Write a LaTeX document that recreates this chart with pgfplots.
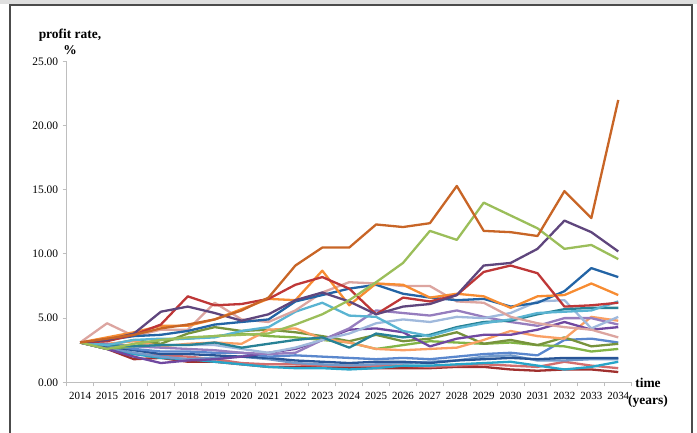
\documentclass[border=0pt]{standalone}
\usepackage{pgfplots}
\pgfplotsset{compat=1.18}
\usepackage{pgfplotstable}
\usepackage{fontspec}
\setmainfont{Liberation Serif}

\definecolor{cA}{RGB}{200,101,38}
\definecolor{cB}{RGB}{155,190,90}
\definecolor{cC}{RGB}{95,70,125}
\definecolor{cD}{RGB}{190,55,55}
\definecolor{cE}{RGB}{247,140,50}
\definecolor{cF}{RGB}{35,100,165}
\definecolor{cG}{RGB}{220,165,160}
\definecolor{cH}{RGB}{90,180,210}
\definecolor{cI}{RGB}{40,130,150}
\definecolor{cJ}{RGB}{160,185,220}
\definecolor{cK}{RGB}{150,125,190}
\definecolor{cL}{RGB}{112,72,160}
\definecolor{cM}{RGB}{250,160,100}
\definecolor{cN}{RGB}{119,147,60}
\definecolor{cO}{RGB}{130,180,70}
\definecolor{cP}{RGB}{90,135,205}
\definecolor{cQ}{RGB}{40,85,150}
\definecolor{cR}{RGB}{114,154,202}
\definecolor{cS}{RGB}{40,165,200}
\definecolor{cT}{RGB}{210,110,110}
\definecolor{cU}{RGB}{160,48,46}
\definecolor{axgray}{RGB}{190,190,190}

\pgfplotstableread{
x  A    B    C    D    E    F    G    H    I    J    K    L    M    N    O    P    Q    R    S    T    U
0  3.1  3.1  3.1  3.1  3.1  3.1  3.1  3.1  3.1  3.1  3.1  3.1  3.1  3.1  3.1  3.1  3.1  3.1  3.1  3.1  3.1
1  3.4  2.6  3.3  3.2  3.5  3.3  4.6  2.9  2.9  2.9  3.0  2.6  3.0  2.9  2.6  2.9  2.8  2.7  2.6  2.6  2.6
2  3.7  3.0  3.8  3.7  3.9  3.6  3.6  3.3  2.8  2.8  2.8  2.0  3.2  3.3  2.8  2.6  2.5  2.3  2.2  2.2  1.8
3  4.2  3.3  5.5  4.5  4.4  3.7  4.1  3.4  2.9  2.9  2.7  1.5  2.8  3.0  3.3  2.4  2.2  2.0  1.9  2.1  1.9
4  4.5  3.5  5.9  6.7  4.4  4.0  4.1  3.4  2.9  2.9  2.6  1.7  3.0  3.8  3.4  2.4  2.2  1.8  1.8  2.0  1.6
5  4.9  3.6  5.4  6.0  4.9  4.5  6.2  3.5  3.1  2.9  2.5  1.8  3.1  4.3  3.6  2.3  2.1  1.9  1.6  1.8  1.6
6  5.6  3.7  4.8  6.1  5.7  4.7  4.9  4.0  2.7  2.6  2.3  2.0  3.0  4.0  3.8  2.3  2.0  2.0  1.4  1.5  1.4
7  6.6  3.8  5.3  6.5  6.5  4.9  4.7  4.3  3.0  2.3  2.2  2.3  4.1  4.1  3.6  2.0  1.9  1.8  1.2  1.4  1.2
8  9.1  4.5  6.4  7.6  6.4  6.3  5.6  5.5  3.3  2.7  2.3  2.6  4.2  3.9  3.5  2.1  1.7  1.5  1.1  1.4  1.2
9  10.5 5.3  7.0  8.2  8.7  6.8  7.0  6.2  3.5  3.3  3.3  3.3  3.4  3.6  3.3  2.0  1.6  1.4  1.1  1.3  1.2
10 10.5 6.4  6.3  7.3  6.0  7.3  7.8  5.2  2.7  3.8  4.2  4.1  3.1  3.2  3.1  1.9  1.5  1.3  1.0  1.3  1.1
11 12.3 7.8  5.3  5.3  7.7  7.6  7.7  5.1  3.8  4.6  5.6  4.2  2.6  3.7  2.6  1.8  1.6  1.4  1.1  1.3  1.1
12 12.1 9.3  5.9  6.6  7.6  6.9  7.5  4.0  3.5  4.9  5.4  3.9  2.5  3.2  2.9  1.9  1.6  1.5  1.3  1.3  1.1
13 12.4 11.8 6.1  6.3  6.6  6.6  7.5  3.6  3.7  4.7  5.2  2.8  2.6  3.4  3.2  1.8  1.5  1.6  1.3  1.2  1.1
14 15.3 11.1 6.8  6.8  6.9  6.4  6.3  4.2  4.3  5.1  5.6  3.4  2.7  3.9  3.1  2.0  1.7  1.7  1.4  1.3  1.2
15 11.8 14.0 9.1  8.6  6.7  6.5  6.2  4.6  4.7  5.0  5.1  3.7  3.3  3.0  3.0  2.2  1.8  2.0  1.5  1.4  1.2
16 11.7 13.0 9.3  9.1  5.8  5.9  5.1  4.9  4.8  5.4  4.7  3.7  4.0  3.3  3.1  2.3  1.9  2.1  1.6  1.3  1.0
17 11.4 12.0 10.4 8.5  6.7  6.2  4.6  5.4  5.3  6.3  4.4  4.1  3.6  2.9  2.9  2.1  1.8  1.7  1.3  1.2  0.9
18 14.9 10.4 12.6 5.9  6.8  7.1  4.3  5.5  5.7  6.4  5.0  4.7  3.4  3.5  2.8  3.3  1.9  1.7  1.0  1.6  1.0
19 12.8 10.7 11.7 6.0  7.7  8.9  4.1  5.6  5.8  4.2  5.0  4.1  5.1  2.8  2.4  3.4  1.9  1.8  1.2  1.3  1.0
20 22.0 9.6  10.2 6.2  6.8  8.2  3.5  6.3  5.8  5.1  4.5  4.3  4.8  3.0  2.6  3.1  1.9  1.8  1.6  1.1  0.8
}\data

\begin{document}
\begin{tikzpicture}
\useasboundingbox (0,0) rectangle (697bp,433bp);
\fill[gray!25] (0,429bp) rectangle (697bp,433bp);
\draw[draw=black!70, line width=1.3bp] (10bp,-5bp) -- (10bp,428bp) -- (692bp,428bp) -- (692bp,-5bp);
\begin{axis}[
  at={(66.7bp,50.7bp)}, anchor=south west,
  scale only axis, width=565bp, height=320.8bp,
  xmin=-0.5, xmax=20.5, ymin=0, ymax=25,
  axis lines*=left,
  axis line style={draw=axgray, line width=1.5bp},
  tick align=outside, major tick length=4bp,
  tick style={draw=axgray, line width=1bp},
  ytick={0,5,10,15,20,25},
  yticklabel style={font=\fontsize{11.5}{13}\selectfont, xshift=-1bp,
    /pgf/number format/fixed, /pgf/number format/fixed zerofill,
    /pgf/number format/precision=2, /pgf/number format/assume math mode=true},
  xtick={-0.5,0.5,...,20.5},
  xticklabels={},
  extra x ticks={0,1,...,20},
  extra x tick labels={2014,2015,2016,2017,2018,2019,2020,2021,2022,2023,2024,2025,2026,2027,2028,2029,2030,2031,2032,2033,2034},
  extra x tick style={major tick length=0pt,
    xticklabel style={font=\fontsize{11}{13}\selectfont, yshift=-6.5bp}},
  every axis plot/.append style={line width=2.3bp, line join=round, mark=none},
]
\addplot[cU] table[x=x,y=U]{\data};
\addplot[cT] table[x=x,y=T]{\data};
\addplot[cS] table[x=x,y=S]{\data};
\addplot[cR] table[x=x,y=R]{\data};
\addplot[cQ] table[x=x,y=Q]{\data};
\addplot[cP] table[x=x,y=P]{\data};
\addplot[cO] table[x=x,y=O]{\data};
\addplot[cN] table[x=x,y=N]{\data};
\addplot[cM] table[x=x,y=M]{\data};
\addplot[cL] table[x=x,y=L]{\data};
\addplot[cK] table[x=x,y=K]{\data};
\addplot[cJ] table[x=x,y=J]{\data};
\addplot[cI] table[x=x,y=I]{\data};
\addplot[cH] table[x=x,y=H]{\data};
\addplot[cG] table[x=x,y=G]{\data};
\addplot[cF] table[x=x,y=F]{\data};
\addplot[cE] table[x=x,y=E]{\data};
\addplot[cD] table[x=x,y=D]{\data};
\addplot[cC] table[x=x,y=C]{\data};
\addplot[cB] table[x=x,y=B]{\data};
\addplot[cA] table[x=x,y=A]{\data};
\end{axis}
\node[font=\bfseries\fontsize{13.5}{16}\selectfont, align=center] at (70bp,391bp) {profit rate,\\\%};
\node[font=\bfseries\fontsize{13.5}{16.5}\selectfont, align=center] at (648bp,40bp) {time\\(years)};
\end{tikzpicture}
\end{document}
